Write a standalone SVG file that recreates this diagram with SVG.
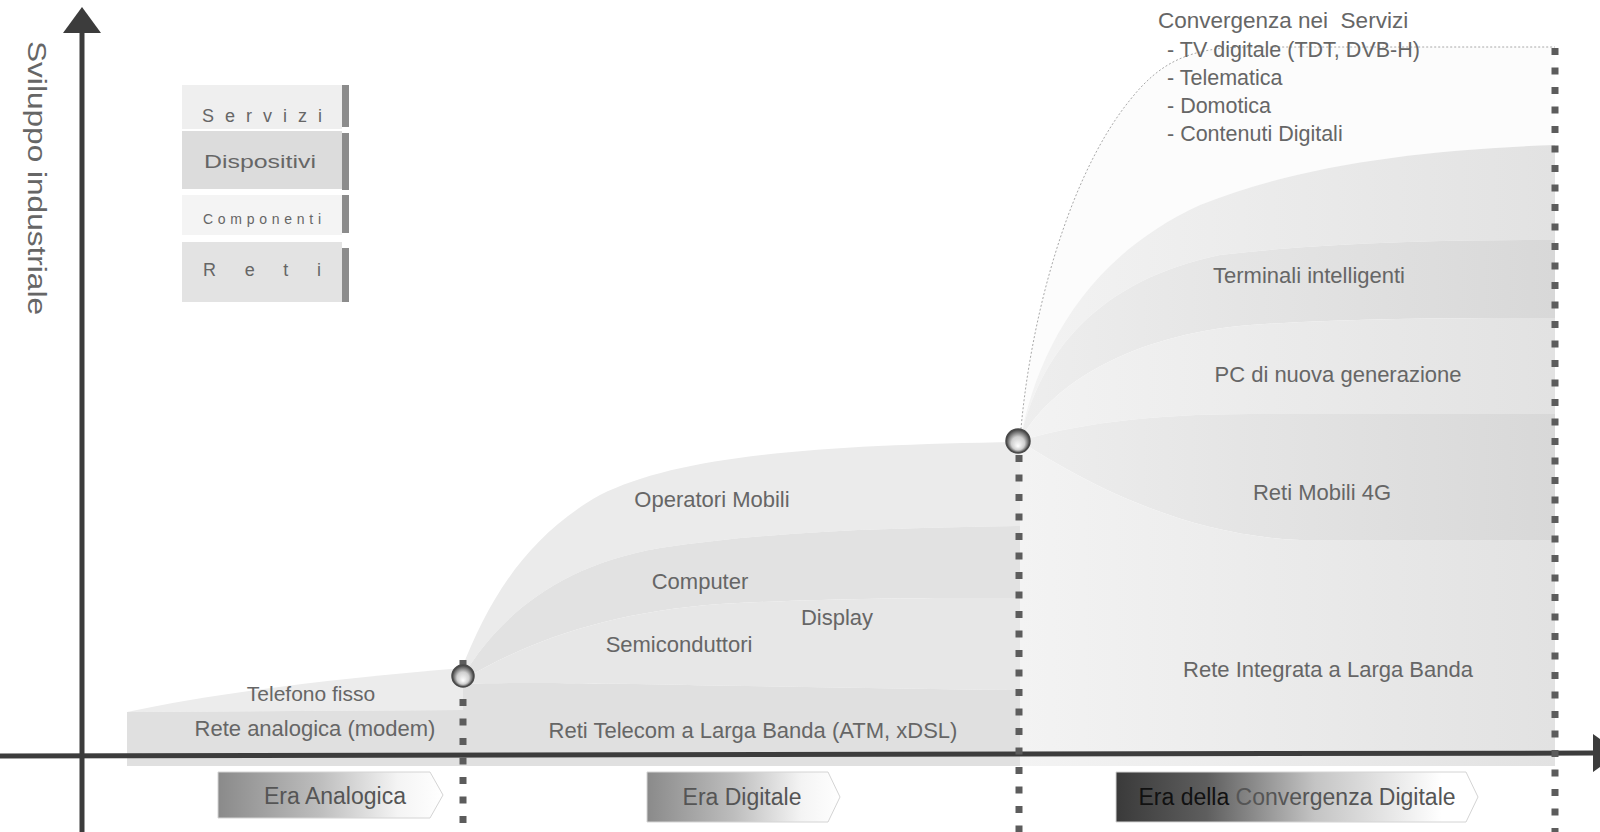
<svg xmlns="http://www.w3.org/2000/svg" width="1600" height="832" viewBox="0 0 1600 832">
<defs>
<style>
text { font-family: "Liberation Sans", Arial, Helvetica, sans-serif; fill: #666; }
.lbl { font-size: 22px; text-anchor: middle; }
.item { font-size: 21.5px; }
.leg { font-size: 18px; text-anchor: middle; }
.era { font-size: 23px; text-anchor: middle; fill: #555; }
.axis { stroke: #3c3c3c; stroke-width: 5; fill: none; }
.vdot { stroke: #5c5c5c; stroke-width: 7; stroke-dasharray: 7 12.5; fill: none; }
.stripe { fill: #8c8c8c; }
.milestone { fill: url(#gBall); stroke: #4a4a4a; stroke-width: 1.5; }
.thin { fill: none; stroke: #a8a8a8; stroke-width: 1; stroke-dasharray: 2 2; }
.eraShape { stroke: #d4d4d4; stroke-width: 1; }
</style>
<marker id="arrow" viewBox="0 0 26 38" refX="0" refY="19" markerWidth="26" markerHeight="38" markerUnits="userSpaceOnUse" orient="auto">
<path d="M0 0 L26 19 L0 38 Z" fill="#3c3c3c"/>
</marker>
<radialGradient id="gBall" cx="0.5" cy="0.5" r="0.5" fx="0.5" fy="0.72">
<stop offset="0" stop-color="#ffffff"/>
<stop offset="0.55" stop-color="#cfcfcf"/>
<stop offset="1" stop-color="#3a3a3a"/>
</radialGradient>
<linearGradient id="gEra" x1="0" y1="0" x2="1" y2="0">
<stop offset="0" stop-color="#8a8a8a"/>
<stop offset="0.45" stop-color="#bdbdbd"/>
<stop offset="0.8" stop-color="#f4f4f4"/>
<stop offset="1" stop-color="#ffffff"/>
</linearGradient>
<linearGradient id="gEraDark" x1="0" y1="0" x2="1" y2="0">
<stop offset="0" stop-color="#3a3a3a"/>
<stop offset="0.25" stop-color="#5e5e5e"/>
<stop offset="0.55" stop-color="#c4c4c4"/>
<stop offset="0.9" stop-color="#ffffff"/>
</linearGradient>
<linearGradient id="gFan" x1="0" y1="0" x2="1" y2="0">
<stop offset="0" stop-color="#f3f3f3"/>
<stop offset="1" stop-color="#e2e2e2"/>
</linearGradient>
<linearGradient id="gFanD" x1="0" y1="0" x2="1" y2="0">
<stop offset="0" stop-color="#eeeeee"/>
<stop offset="1" stop-color="#d8d8d8"/>
</linearGradient>
</defs>
<rect x="0" y="0" width="1600" height="832" fill="#ffffff"/>

<g id="bands-analogica">
<path id="band-telefono" d="M127 712 C220 692 340 678 463 668 L463 710 L127 712 Z" fill="#ececec"/>
<path id="band-rete-analogica" d="M127 712 L463 710 L463 766 L127 766 Z" fill="#e0e0e0"/>
</g>

<g id="bands-digitale">
<path id="band-operatori" d="M462 668 C485 610 520 540 600 495 C680 455 820 445 1020 442 L1020 526 C900 528 780 530 660 548 C560 565 500 615 463 676 Z" fill="#ebebeb"/>
<path id="band-computer" d="M463 676 C500 615 560 565 660 548 C780 530 900 528 1020 526 L1020 598 C950 598 850 597 720 604 C610 612 530 640 463 680 Z" fill="#e2e2e2"/>
<path id="band-componenti" d="M463 680 C530 640 610 612 720 604 C850 597 950 598 1020 598 L1020 690 C760 688 560 680 463 684 Z" fill="#e7e7e7"/>
<path id="band-reti-telecom" d="M463 684 C560 680 760 688 1020 690 L1020 766 L463 766 Z" fill="#e0e0e0"/>
</g>

<g id="bands-convergenza">
<path id="band-servizi" d="M1020 441 C1028 330 1065 180 1130 100 C1160 62 1190 47 1250 47 L1555 47 L1555 145 C1420 150 1300 165 1200 205 C1080 260 1035 360 1020 441 Z" fill="#fcfcfc"/>
<path id="band-a" d="M1020 441 C1035 360 1080 260 1200 205 C1300 165 1420 150 1555 145 L1555 240 C1450 240 1330 242 1220 255 C1100 280 1040 350 1020 441 Z" fill="url(#gFan)"/>
<path id="band-terminali" d="M1020 441 C1040 350 1100 280 1220 255 C1330 242 1450 240 1555 240 L1555 318 C1450 318 1350 318 1250 325 C1130 335 1050 385 1020 441 Z" fill="url(#gFanD)"/>
<path id="band-pc" d="M1020 441 C1050 385 1130 335 1250 325 C1350 318 1450 318 1555 318 L1555 414 L1250 414 C1150 414 1070 425 1020 441 Z" fill="url(#gFan)"/>
<path id="band-mobili" d="M1020 441 C1070 425 1150 414 1250 414 L1555 414 L1555 540 L1300 540 C1180 535 1080 480 1020 441 Z" fill="url(#gFanD)"/>
<path id="band-rete-integrata" d="M1020 441 C1080 480 1180 535 1300 540 L1555 540 L1555 766 L1020 766 Z" fill="url(#gFan)"/>
<path id="servizi-outline" class="thin" d="M1020 441 C1028 330 1065 180 1130 100 C1160 62 1190 47 1250 47 L1555 47"/>
</g>

<g id="connectors">
<line class="axis" x1="82" y1="832" x2="82" y2="33" marker-end="url(#arrow)"/>
<line class="axis" x1="0" y1="756" x2="1593" y2="753" marker-end="url(#arrow)"/>
<line class="vdot" x1="463" y1="660" x2="463" y2="832"/>
<line class="vdot" x1="1019" y1="455" x2="1019" y2="832"/>
<line class="vdot" x1="1555" y1="48" x2="1555" y2="832"/>
</g>

<g id="axis-label">
<text transform="translate(28,178) rotate(90)" style="font-size:26px;text-anchor:middle" textLength="274" lengthAdjust="spacingAndGlyphs">Sviluppo industriale</text>
</g>

<g id="legend">
<g id="legend-servizi">
<rect x="182" y="85" width="160" height="44" fill="#efefef"/>
<rect class="stripe" x="342" y="85" width="7" height="42"/>
<text class="leg" x="262" y="122" textLength="120" lengthAdjust="spacing">S e r v i z i</text>
</g>
<g id="legend-dispositivi">
<rect x="182" y="131" width="160" height="58" fill="#dcdcdc"/>
<rect class="stripe" x="342" y="133" width="7" height="57"/>
<text class="leg" x="260" y="168" textLength="112" lengthAdjust="spacingAndGlyphs">Dispositivi</text>
</g>
<g id="legend-componenti">
<rect x="182" y="195" width="160" height="40" fill="#f4f4f4"/>
<rect class="stripe" x="342" y="195" width="7" height="38"/>
<text class="leg" x="262" y="224" style="font-size:14px" textLength="118" lengthAdjust="spacing">Componenti</text>
</g>
<g id="legend-reti">
<rect x="182" y="242" width="160" height="60" fill="#e3e3e3"/>
<rect class="stripe" x="342" y="248" width="7" height="54"/>
<text class="leg" x="262" y="276" textLength="118" lengthAdjust="spacing">R e t i</text>
</g>
</g>

<g id="milestones">
<circle id="milestone-1" class="milestone" cx="463" cy="676" r="11"/>
<circle id="milestone-2" class="milestone" cx="1018" cy="441" r="12"/>
</g>

<g id="labels-analogica">
<text id="lbl-telefono" class="lbl" x="311" y="701" style="font-size:21px">Telefono fisso</text>
<text id="lbl-rete-analogica" class="lbl" x="315" y="736">Rete analogica (modem)</text>
</g>

<g id="labels-digitale">
<text id="lbl-operatori" class="lbl" x="712" y="507">Operatori Mobili</text>
<text id="lbl-computer" class="lbl" x="700" y="589">Computer</text>
<text id="lbl-display" class="lbl" x="837" y="625">Display</text>
<text id="lbl-semiconduttori" class="lbl" x="679" y="652">Semiconduttori</text>
<text id="lbl-reti-telecom" class="lbl" x="753" y="738">Reti Telecom a Larga Banda (ATM, xDSL)</text>
</g>

<g id="labels-convergenza">
<text id="lbl-terminali" class="lbl" x="1309" y="283">Terminali intelligenti</text>
<text id="lbl-pc" class="lbl" x="1338" y="382">PC di nuova generazione</text>
<text id="lbl-mobili" class="lbl" x="1322" y="500">Reti Mobili 4G</text>
<text id="lbl-rete-integrata" class="lbl" x="1328" y="677">Rete Integrata a Larga Banda</text>
</g>

<g id="servizi-list">
<text x="1158" y="28" style="font-size:22.5px" xml:space="preserve">Convergenza nei  Servizi</text>
<text class="item" x="1167" y="57">- TV digitale (TDT, DVB-H)</text>
<text class="item" x="1167" y="85">- Telematica</text>
<text class="item" x="1167" y="113">- Domotica</text>
<text class="item" x="1167" y="141">- Contenuti Digitali</text>
</g>

<g id="era-analogica">
<path class="eraShape" d="M218 772 L430 772 L443 795 L430 818 L218 818 Z" fill="url(#gEra)"/>
<text class="era" x="335" y="804">Era Analogica</text>
</g>
<g id="era-digitale">
<path class="eraShape" d="M647 772 L828 772 L840 797 L828 822 L647 822 Z" fill="url(#gEra)"/>
<text class="era" x="742" y="805">Era Digitale</text>
</g>
<g id="era-convergenza">
<path class="eraShape" d="M1116 772 L1466 772 L1478 797 L1466 822 L1116 822 Z" fill="url(#gEraDark)"/>
<text class="era" x="1297" y="805"><tspan fill="#111111">Era della</tspan> Convergenza Digitale</text>
</g>
</svg>
